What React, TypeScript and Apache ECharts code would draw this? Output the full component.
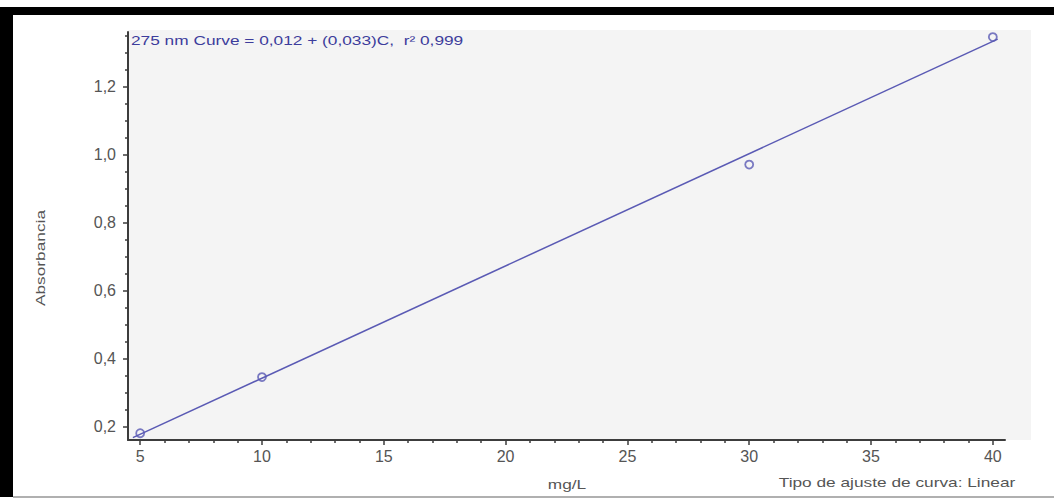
import React, { useEffect, useRef } from "react";
import * as echarts from "echarts";

// Measured calibration points (mg/L vs absorbance)
const concentrations = [5, 10, 30, 40];
const absorbance = [0.18, 0.345, 0.97, 1.345];
// Fitted line end points
const fitX = [4.7, 40.2];
const fitY = [0.167, 1.339];
// Tick values
const xMajorTicks = [5, 10, 15, 20, 25, 30, 35, 40];
const xMinorTicks = [6, 7, 8, 9, 11, 12, 13, 14, 16, 17, 18, 19, 21, 22, 23, 24, 26, 27, 28, 29, 31, 32, 33, 34, 36, 37, 38, 39];
const yMajorTicks = [0.2, 0.4, 0.6, 0.8, 1.0, 1.2];
const yMinorTicks = [0.25, 0.3, 0.35, 0.45, 0.5, 0.55, 0.65, 0.7, 0.75, 0.85, 0.9, 0.95, 1.05, 1.1, 1.15, 1.25, 1.3, 1.35];

const titleText = "275 nm Curve = 0,012 + (0,033)C,  r² 0,999";
const yName = "Absorbancia";
const xName = "mg/L";
const fitTypeText = "Tipo de ajuste de curva: Linear";

const W = 1054;
const H = 499;
const FONT = "'Liberation Sans', Arial, sans-serif";
const AXIS = "#3c3c3c";
const LABEL = "#555555";
const BLUE = "#5a5ab4";
const STRETCH = 1.33;

export default function App() {
  const ref = useRef<HTMLDivElement>(null);
  useEffect(() => {
    if (!ref.current) return;
    const chart = echarts.init(ref.current, undefined, { renderer: "svg" });
    const gridLeft = 128;
    const gridRight = 1005;
    const gridTop = 32;
    const gridBottom = 440;
    const fmt = (v: number) => v.toFixed(1).replace(".", ",");
    chart.setOption({
      animation: false,
      backgroundColor: "#ffffff",
      grid: {
        left: gridLeft,
        right: W - gridRight,
        top: gridTop,
        bottom: H - gridBottom,
        containLabel: false,
      },
      xAxis: [
        {
          type: "value",
          min: 4.5,
          max: 40.5,
          position: "bottom",
          axisLine: { show: true, onZero: false, lineStyle: { color: AXIS, width: 2 } },
          axisTick: { show: true, customValues: xMajorTicks, length: 5, lineStyle: { color: AXIS, width: 1.5 } },
          axisLabel: { customValues: xMajorTicks, color: LABEL, fontSize: 16, fontFamily: FONT, margin: 8 },
          splitLine: { show: false },
        },
        {
          type: "value",
          min: 4.5,
          max: 40.5,
          position: "bottom",
          axisLine: { show: false },
          axisTick: { show: true, customValues: xMinorTicks, length: 3, lineStyle: { color: AXIS, width: 1.5 } },
          axisLabel: { show: false },
          splitLine: { show: false },
        },
      ],
      yAxis: [
        {
          type: "value",
          min: 0.16,
          max: 1.36,
          position: "left",
          axisLine: { show: true, onZero: false, lineStyle: { color: AXIS, width: 2 } },
          axisTick: { show: true, customValues: yMajorTicks, length: 5, lineStyle: { color: AXIS, width: 1.5 } },
          axisLabel: { customValues: yMajorTicks, color: LABEL, fontSize: 16, fontFamily: FONT, margin: 12, formatter: fmt },
          splitLine: { show: false },
        },
        {
          type: "value",
          min: 0.16,
          max: 1.36,
          position: "left",
          axisLine: { show: false },
          axisTick: { show: true, customValues: yMinorTicks, length: 3, lineStyle: { color: AXIS, width: 1.5 } },
          axisLabel: { show: false },
          splitLine: { show: false },
        },
      ],
      graphic: [
        { type: "rect", z: -10, silent: true, shape: { x: 0, y: 7, width: W, height: 8 }, style: { fill: "#000000" } },
        { type: "rect", z: -10, silent: true, shape: { x: 0, y: 7, width: 13, height: 490 }, style: { fill: "#000000" } },
        { type: "rect", z: -10, silent: true, shape: { x: 13, y: 496, width: W - 13, height: 2 }, style: { fill: "#b0b0b0" } },
        { type: "rect", z: -10, silent: true, shape: { x: 128, y: 30, width: 903, height: 410 }, style: { fill: "#f4f4f4" } },
        {
          type: "text",
          x: 131,
          y: 40,
          scaleX: STRETCH,
          style: { text: titleText, fill: "#3d3d9c", fontSize: 13, fontFamily: FONT, align: "left", verticalAlign: "middle" },
        },
        {
          type: "text",
          x: 40,
          y: 258,
          rotation: Math.PI / 2,
          scaleX: STRETCH,
          style: { text: yName, fill: LABEL, fontSize: 13, fontFamily: FONT, align: "center", verticalAlign: "middle" },
        },
        {
          type: "text",
          x: 567,
          y: 484,
          scaleX: STRETCH,
          style: { text: xName, fill: LABEL, fontSize: 13, fontFamily: FONT, align: "center", verticalAlign: "middle" },
        },
        {
          type: "text",
          x: 897,
          y: 482,
          scaleX: STRETCH,
          style: { text: fitTypeText, fill: LABEL, fontSize: 13, fontFamily: FONT, align: "center", verticalAlign: "middle" },
        },
      ],
      series: [
        {
          type: "line",
          xAxisIndex: 0,
          yAxisIndex: 0,
          data: fitX.map((x, i) => [x, fitY[i]]),
          showSymbol: false,
          symbol: "none",
          lineStyle: { color: BLUE, width: 1.5 },
          silent: true,
        },
        {
          type: "scatter",
          xAxisIndex: 0,
          yAxisIndex: 0,
          data: concentrations.map((x, i) => [x, absorbance[i]]),
          symbol: "circle",
          symbolSize: 8,
          itemStyle: { color: "rgba(0,0,0,0)", borderColor: BLUE, borderWidth: 1.8 },
          silent: true,
        },
      ],
    });
    return () => chart.dispose();
  }, []);
  return <div ref={ref} style={{ position: "absolute", left: 0, top: 0, width: W, height: H }} />;
}
